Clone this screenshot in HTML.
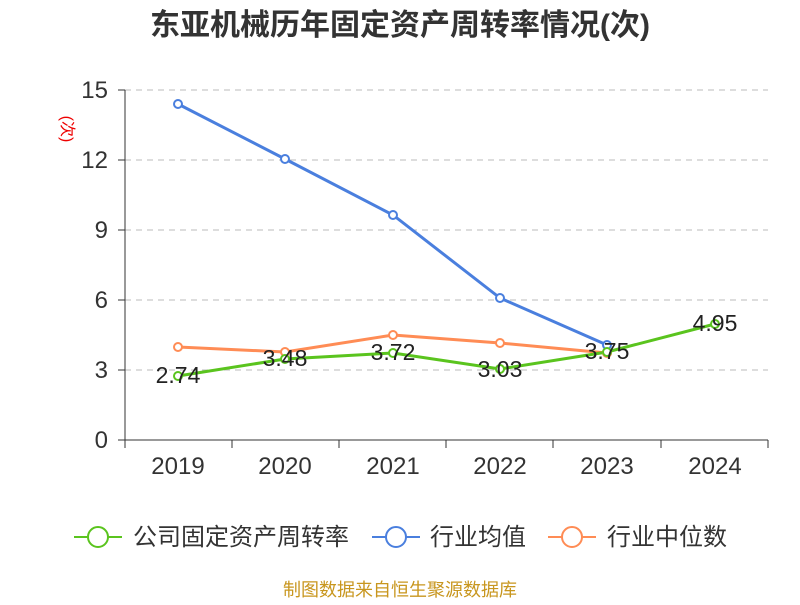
<!DOCTYPE html>
<html><head><meta charset="utf-8"><style>
body{margin:0;background:#fff;}
svg text{font-family:"Liberation Sans","Noto Sans CJK SC",sans-serif;}
</style></head><body>
<svg width="800" height="600" xmlns="http://www.w3.org/2000/svg">
<rect width="800" height="600" fill="#fff"/>
<text x="400" y="35" text-anchor="middle" font-size="30" font-weight="bold" fill="#333">东亚机械历年固定资产周转率情况(次)</text>
<text x="66" y="125" font-size="16" fill="#e00" transform="rotate(90 62 125)" text-anchor="middle">(次)</text>
<g stroke="#bbb" stroke-dasharray="6,5" stroke-width="1">
<line x1="125" y1="90" x2="768" y2="90"/><line x1="125" y1="160" x2="768" y2="160"/>
<line x1="125" y1="230" x2="768" y2="230"/><line x1="125" y1="300" x2="768" y2="300"/>
<line x1="125" y1="370" x2="768" y2="370"/>
</g>
<g stroke="#333" stroke-width="1">
<line x1="125" y1="90" x2="125" y2="440"/><line x1="125" y1="440" x2="768" y2="440"/>
<line x1="118" y1="90" x2="125" y2="90"/><line x1="118" y1="160" x2="125" y2="160"/><line x1="118" y1="230" x2="125" y2="230"/><line x1="118" y1="300" x2="125" y2="300"/><line x1="118" y1="370" x2="125" y2="370"/><line x1="118" y1="440" x2="125" y2="440"/>
<line x1="125" y1="440" x2="125" y2="448"/><line x1="232" y1="440" x2="232" y2="448"/><line x1="339" y1="440" x2="339" y2="448"/><line x1="446" y1="440" x2="446" y2="448"/><line x1="553" y1="440" x2="553" y2="448"/><line x1="661" y1="440" x2="661" y2="448"/><line x1="768" y1="440" x2="768" y2="448"/>
</g>
<g font-size="24" fill="#333" text-anchor="end">
<text x="108" y="98">15</text><text x="108" y="168">12</text><text x="108" y="238">9</text><text x="108" y="308">6</text><text x="108" y="378">3</text><text x="108" y="448">0</text>
</g>
<g font-size="24" fill="#333" text-anchor="middle">
<text x="178" y="474">2019</text><text x="285" y="474">2020</text><text x="393" y="474">2021</text><text x="500" y="474">2022</text><text x="607" y="474">2023</text><text x="715" y="474">2024</text>
</g>
<polyline fill="none" stroke="#4a7fde" stroke-width="3" points="178,104 285,159 393,215 500,298 607,345"/>
<polyline fill="none" stroke="#ff8c55" stroke-width="3" points="178,347 285,352 393,335 500,343 607,353"/>
<polyline fill="none" stroke="#5ac41e" stroke-width="3" points="178,376 285,359 393,353 500,369 607,352 715,324"/>
<g fill="#fff" stroke-width="2">
<g stroke="#4a7fde"><circle cx="178" cy="104" r="4"/><circle cx="285" cy="159" r="4"/><circle cx="393" cy="215" r="4"/><circle cx="500" cy="298" r="4"/><circle cx="607" cy="345" r="4"/></g>
<g stroke="#ff8c55"><circle cx="178" cy="347" r="4"/><circle cx="285" cy="352" r="4"/><circle cx="393" cy="335" r="4"/><circle cx="500" cy="343" r="4"/><circle cx="607" cy="353" r="4"/></g>
<g stroke="#5ac41e"><circle cx="178" cy="376" r="4"/><circle cx="285" cy="359" r="4"/><circle cx="393" cy="353" r="4"/><circle cx="500" cy="369" r="4"/><circle cx="607" cy="352" r="4"/><circle cx="715" cy="324" r="4"/></g>
</g>
<g font-size="23" fill="#222" text-anchor="middle">
<text x="178" y="383">2.74</text><text x="285" y="366">3.48</text><text x="393" y="360">3.72</text><text x="500" y="377">3.03</text><text x="607" y="359">3.75</text><text x="715" y="331">4.95</text>
</g>
<g font-size="24" fill="#333">
<line x1="74" y1="537" x2="122" y2="537" stroke="#5ac41e" stroke-width="2"/><circle cx="98" cy="537" r="10" fill="#fff" stroke="#5ac41e" stroke-width="2"/>
<text x="133" y="545">公司固定资产周转率</text>
<line x1="372" y1="537" x2="420" y2="537" stroke="#4a7fde" stroke-width="2"/><circle cx="396" cy="537" r="10" fill="#fff" stroke="#4a7fde" stroke-width="2"/>
<text x="430" y="545">行业均值</text>
<line x1="548" y1="537" x2="596" y2="537" stroke="#ff8c55" stroke-width="2"/><circle cx="572" cy="537" r="10" fill="#fff" stroke="#ff8c55" stroke-width="2"/>
<text x="607" y="545">行业中位数</text>
</g>
<text x="400" y="596" text-anchor="middle" font-size="18" fill="#c8961e">制图数据来自恒生聚源数据库</text>
</svg>
</body></html>
